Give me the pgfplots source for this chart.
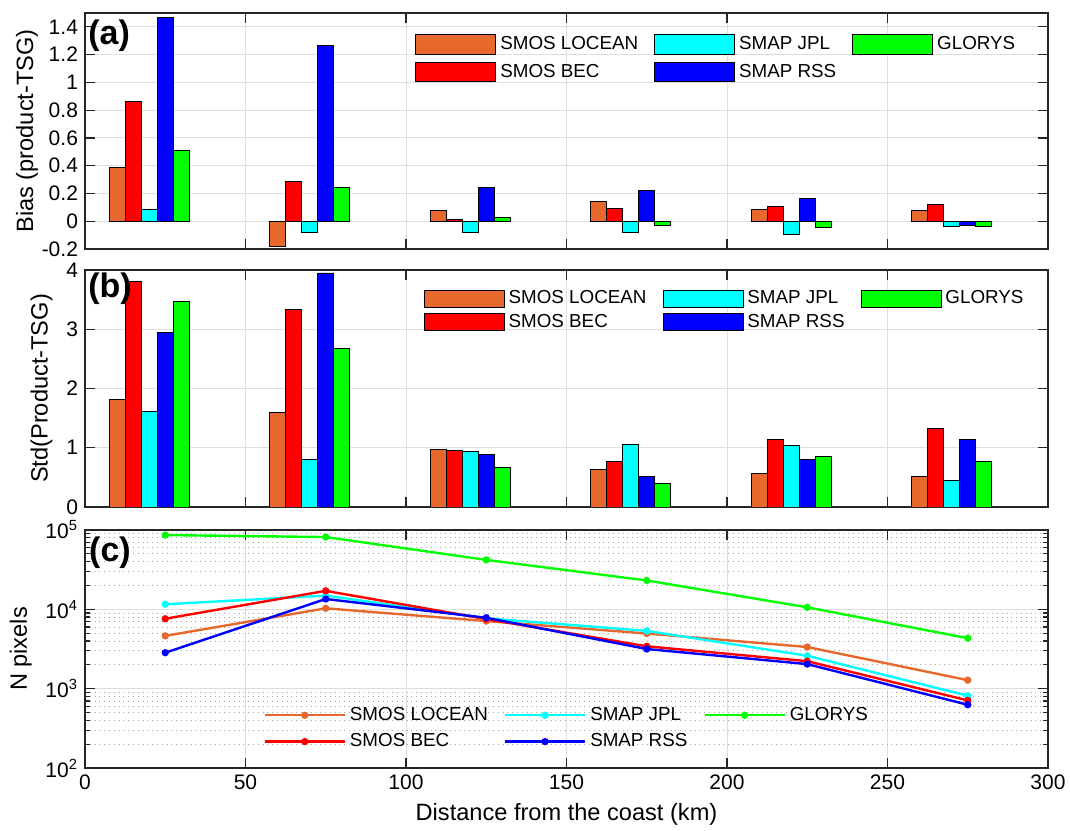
\documentclass[border=0pt]{standalone}
\usepackage{fontspec}
\setmainfont{Liberation Sans}
\usepackage{pgfplots}
\pgfplotsset{compat=1.18}

\definecolor{cLoc}{RGB}{230,104,44}
\definecolor{cBec}{RGB}{255,0,0}
\definecolor{cJpl}{RGB}{0,255,255}
\definecolor{cRss}{RGB}{0,0,255}
\definecolor{cGlo}{RGB}{0,255,0}
\definecolor{axc}{RGB}{38,38,38}
\definecolor{gridc}{RGB}{222,222,222}

\pgfplotsset{
 common/.style={
  scale only axis, width=481.5pt, xmin=0, xmax=300,
  xtick={0,50,...,300},
  tick align=inside, major tick length=5pt, minor tick length=2.5pt,
  axis line style={axc, line width=0.7pt}, tick style={axc, line width=0.6pt},
  xmajorgrids, ymajorgrids, major grid style={gridc, line width=0.5pt},
  tick label style={font=\fontsize{10.5}{12}\selectfont, text=black},
  yticklabel style={inner ysep=0pt},
  label style={font=\fontsize{11.8}{13}\selectfont},
  /pgf/number format/assume math mode=true,
  legend cell align=left,
  legend style={draw=none, fill=none, font=\fontsize{9.4}{11}\selectfont,
    legend columns=3, inner sep=0pt, nodes={inner ysep=0pt},
    /tikz/every even column/.append style={column sep=6pt}},
  anchor=north west,
 },
 mybar/.style={ybar, bar width=5, bar shift=0pt, draw=black, line width=0.45pt,
   legend image code/.code={\draw[##1] (0pt,-#1) rectangle (40pt,#1);}},
 myline/.style={line width=1.2pt, mark=*, mark size=1.2pt, mark options={solid},
   legend image code/.code={\draw[mark repeat=2,mark phase=2,##1] plot coordinates {(0pt,0pt) (20pt,0pt) (40pt,0pt)};}},
}

\begin{document}
\begin{tikzpicture}
\useasboundingbox (0,0) rectangle (535pt,415pt);

% ---------------- (a) Bias
\begin{axis}[common, at={(42.5pt,408.5pt)}, height=118pt,
  ymin=-0.2, ymax=1.5, ytick={-0.2,0,0.2,0.4,0.6,0.8,1,1.2,1.4},
  xticklabels={},
  extra y ticks={0}, extra y tick labels={},
  extra y tick style={grid style={black!75, line width=0.5pt}},
  ylabel={Bias (product-TSG)}, ylabel style={yshift=-5pt},
  legend style={at={(0.3427,0.911)}, anchor=north west, row sep=3.6pt}]
\addplot[mybar=4.85pt, fill=cLoc] coordinates {(10,0.386) (60,-0.18) (110,0.08) (160,0.142) (210,0.082) (260,0.077)};
\addplot[mybar=4.85pt, fill=cJpl] coordinates {(20,0.084) (70,-0.08) (120,-0.08) (170,-0.08) (220,-0.094) (270,-0.036)};
\addplot[mybar=4.85pt, fill=cGlo] coordinates {(30,0.511) (80,0.246) (130,0.029) (180,-0.029) (230,-0.043) (280,-0.041)};
\addplot[mybar=4.85pt, fill=cBec] coordinates {(15,0.863) (65,0.284) (115,0.014) (165,0.092) (215,0.106) (265,0.118)};
\addplot[mybar=4.85pt, fill=cRss] coordinates {(25,1.465) (75,1.267) (125,0.246) (175,0.224) (225,0.166) (275,-0.027)};
\legend{SMOS LOCEAN, SMAP JPL, GLORYS, SMOS BEC, SMAP RSS}
\node[anchor=west, inner sep=0pt, font=\bfseries\fontsize{17}{17}\selectfont] at (rel axis cs:0.003,0.905) {(a)};
\end{axis}

% ---------------- (b) Std
\begin{axis}[common, at={(42.5pt,280pt)}, height=118.5pt,
  ymin=0, ymax=4, ytick={0,1,2,3,4},
  xticklabels={},
  ylabel={Std(Product-TSG)},
  legend style={at={(0.3513,0.918)}, anchor=north west, row sep=2.8pt}]
\addplot[mybar=4.25pt, fill=cLoc] coordinates {(10,1.808) (60,1.59) (110,0.977) (160,0.64) (210,0.567) (260,0.52)};
\addplot[mybar=4.25pt, fill=cJpl] coordinates {(20,1.62) (70,0.81) (120,0.943) (170,1.05) (220,1.034) (270,0.444)};
\addplot[mybar=4.25pt, fill=cGlo] coordinates {(30,3.47) (80,2.67) (130,0.67) (180,0.39) (230,0.848) (280,0.77)};
\addplot[mybar=4.25pt, fill=cBec] coordinates {(15,3.81) (65,3.33) (115,0.955) (165,0.764) (215,1.14) (265,1.32)};
\addplot[mybar=4.25pt, fill=cRss] coordinates {(25,2.95) (75,3.95) (125,0.88) (175,0.52) (225,0.803) (275,1.14)};
\legend{SMOS LOCEAN, SMAP JPL, GLORYS, SMOS BEC, SMAP RSS}
\node[anchor=west, inner sep=0pt, font=\bfseries\fontsize{17}{17}\selectfont] at (rel axis cs:0.003,0.922) {(b)};
\end{axis}

% ---------------- (c) N pixels
\begin{axis}[common, at={(42.5pt,150pt)}, height=119pt,
  ymode=log, ymin=100, ymax=100000,
  ytick={100,1000,10000,100000},
  yticklabels={10\textsuperscript{2},10\textsuperscript{3},10\textsuperscript{4},10\textsuperscript{5}},
  yminorgrids, minor grid style={black!35, dotted, line width=0.4pt},
  xticklabels={0,50,100,150,200,250,300},
  xlabel={Distance from the coast (km)},
  ylabel={N pixels},
  legend style={at={(0.185,0.257)}, anchor=north west, row sep=5.1pt}]
\addplot[myline, color=cLoc] coordinates {(25,4630) (75,10300) (125,7110) (175,4960) (225,3350) (275,1280)};
\addplot[myline, color=cJpl] coordinates {(25,11580) (75,14900) (125,7700) (175,5350) (225,2600) (275,815)};
\addplot[myline, color=cGlo] coordinates {(25,86300) (75,81500) (125,42000) (175,23100) (225,10600) (275,4330)};
\addplot[myline, color=cBec] coordinates {(25,7610) (75,17100) (125,7540) (175,3420) (225,2220) (275,711)};
\addplot[myline, color=cRss] coordinates {(25,2840) (75,13500) (125,7830) (175,3160) (225,2040) (275,627)};
\legend{SMOS LOCEAN, SMAP JPL, GLORYS, SMOS BEC, SMAP RSS}
\node[anchor=west, inner sep=0pt, font=\bfseries\fontsize{17}{17}\selectfont] at (rel axis cs:0.004,0.905) {(c)};
\end{axis}
\end{tikzpicture}
\end{document}
